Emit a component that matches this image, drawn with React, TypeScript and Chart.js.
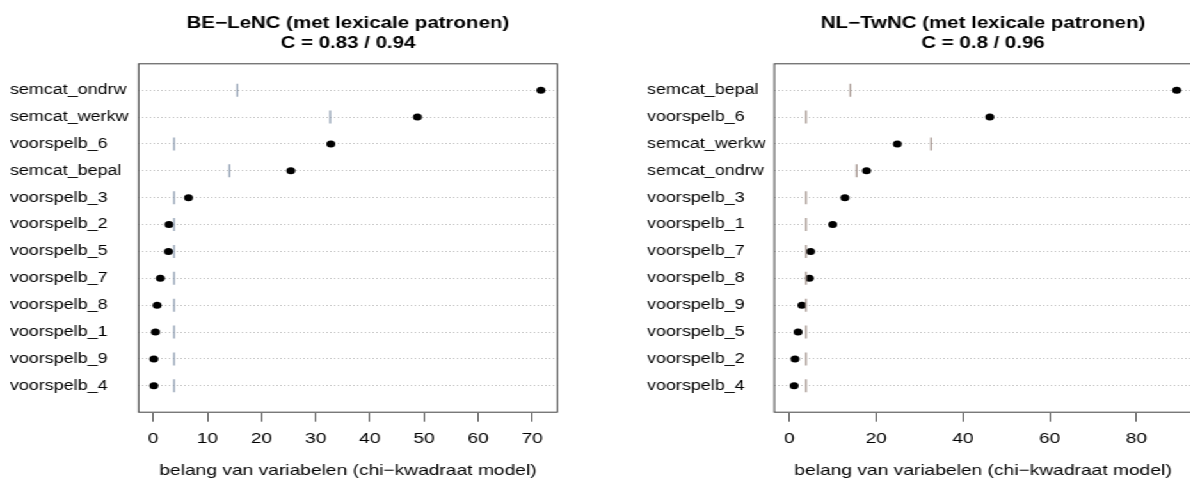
import React, { useEffect, useRef } from 'react';
import { Chart, registerables } from 'chart.js';

Chart.register(...registerables);

// ---------- data ----------
const beLabels = ['semcat_ondrw', 'semcat_werkw', 'voorspelb_6', 'semcat_bepal', 'voorspelb_3', 'voorspelb_2', 'voorspelb_5', 'voorspelb_7', 'voorspelb_8', 'voorspelb_1', 'voorspelb_9', 'voorspelb_4'];
const beChi = [71.6, 48.8, 32.8, 25.4, 6.5, 2.9, 2.8, 1.3, 0.7, 0.4, 0.1, 0.1];
const beCrit = [15.51, 32.67, 3.84, 14.07, 3.84, 3.84, 3.84, 3.84, 3.84, 3.84, 3.84, 3.84];
const beTicks = [0, 10, 20, 30, 40, 50, 60, 70];
const beTitle = ['BE\u2212LeNC (met lexicale patronen)', 'C = 0.83 / 0.94'];

const nlLabels = ['semcat_bepal', 'voorspelb_6', 'semcat_werkw', 'semcat_ondrw', 'voorspelb_3', 'voorspelb_1', 'voorspelb_7', 'voorspelb_8', 'voorspelb_9', 'voorspelb_5', 'voorspelb_2', 'voorspelb_4'];
const nlChi = [89.3, 46.2, 24.9, 17.8, 12.8, 10.0, 4.9, 4.6, 2.9, 2.0, 1.3, 1.1];
const nlCrit = [14.07, 3.84, 32.67, 15.51, 3.84, 3.84, 3.84, 3.84, 3.84, 3.84, 3.84, 3.84];
const nlTicks = [0, 20, 40, 60, 80];
const nlTitle = ['NL\u2212TwNC (met lexicale patronen)', 'C = 0.8 / 0.96'];

const xTitle = 'belang van variabelen (chi\u2212kwadraat model)';

// ---------- layout ----------
const STRETCH = 1.28;
const FONT = "'Liberation Sans', Arial, Helvetica, sans-serif";

const boxPlugin = {
  id: 'boxPlugin',
  afterDraw(chart: any) {
    const { ctx, chartArea: a } = chart;
    ctx.save();
    ctx.strokeStyle = '#404040';
    ctx.lineWidth = 1;
    ctx.strokeRect(a.left + 0.5, a.top + 0.5, a.right - a.left - 1, a.bottom - a.top - 1);
    ctx.restore();
  },
};

function makeConfig(p: {
  labels: string[]; chi: number[]; crit: number[]; ticks: number[];
  xmin: number; xmax: number; title: string[]; markerColor: string;
  padLeft: number; padRight: number; yWidth: number;
}): any {
  const markerData = p.crit.map((v, i) => ({ x: v, y: i + 1 }));
  const dotData = p.chi.map((v, i) => ({ x: v, y: i + 1 }));
  return {
    type: 'scatter',
    data: {
      datasets: [
        {
          data: markerData,
          pointStyle: 'line',
          rotation: 90,
          radius: 6.5,
          borderWidth: 1.3,
          borderColor: p.markerColor,
          backgroundColor: p.markerColor,
        },
        {
          data: dotData,
          pointStyle: 'circle',
          radius: 3.5,
          borderWidth: 0,
          backgroundColor: '#000',
          borderColor: '#000',
        },
      ],
    },
    options: {
      responsive: false,
      animation: false,
      devicePixelRatio: 1,
      layout: { padding: { left: p.padLeft, right: p.padRight, top: 0, bottom: 0 } },
      plugins: {
        legend: { display: false },
        tooltip: { enabled: false },
        title: {
          display: true,
          fullSize: false,
          text: p.title,
          color: '#000',
          font: { family: FONT, size: 16, weight: 'bold', lineHeight: 1.2 },
          padding: { top: 14.4, bottom: 10.5 },
        },
      },
      scales: {
        x: {
          type: 'linear',
          min: p.xmin,
          max: p.xmax,
          afterBuildTicks: (s: any) => { s.ticks = p.ticks.map((v) => ({ value: v })); },
          afterFit: (s: any) => { s.height = 71.3; },
          grid: { display: true, drawOnChartArea: false, drawTicks: true, tickLength: 9, color: '#505050', lineWidth: 1 },
          border: { display: false },
          ticks: { color: '#000', font: { family: FONT, size: 15 }, padding: 8.3, maxRotation: 0, autoSkip: false },
          title: { display: true, text: xTitle, color: '#000', font: { family: FONT, size: 15 }, padding: { top: 0, bottom: 4 } },
        },
        y: {
          type: 'linear',
          reverse: true,
          min: 0,
          max: 13,
          afterBuildTicks: (s: any) => { s.ticks = p.labels.map((_, i) => ({ value: i + 1 })); },
          afterFit: (s: any) => { s.width = p.yWidth; },
          grid: { display: true, drawOnChartArea: true, drawTicks: false, color: '#bdbdbd', lineWidth: 1 },
          border: { display: false, dash: [1, 2] },
          ticks: {
            color: '#000',
            font: { family: FONT, size: 14 },
            crossAlign: 'far',
            autoSkip: false,
            callback: (v: number) => p.labels[Math.round(v) - 1] ?? '',
          },
        },
      },
    },
    plugins: [boxPlugin],
  };
}

function Panel(props: { left: number; width: number; cfg: any }) {
  const ref = useRef<HTMLCanvasElement | null>(null);
  useEffect(() => {
    if (!ref.current) return;
    const chart = new Chart(ref.current, props.cfg);
    return () => chart.destroy();
  }, []);
  return (
    <canvas
      ref={ref}
      width={props.width}
      height={484}
      style={{ position: 'absolute', left: props.left, top: 0, width: props.width, height: 484 }}
    />
  );
}

export default function App() {
  const leftCfg = makeConfig({
    labels: beLabels, chi: beChi, crit: beCrit, ticks: beTicks,
    xmin: -2.83, xmax: 74.75, title: beTitle, markerColor: '#8d9cb0',
    padLeft: 7.8, padRight: 34.1, yWidth: 100,
  });
  const rightCfg = makeConfig({
    labels: nlLabels, chi: nlChi, crit: nlCrit, ticks: nlTicks,
    xmin: -3.6, xmax: 92.9, title: nlTitle, markerColor: '#a5958f',
    padLeft: 25.5, padRight: 8.5, yWidth: 99,
  });
  return (
    <div style={{ position: 'fixed', left: 0, top: 0, width: 1190, height: 484, overflow: 'hidden', background: '#fff' }}>
      <div style={{ position: 'absolute', left: 0, top: 0, width: 940, height: 484, transform: `scaleX(${STRETCH})`, transformOrigin: '0 0' }}>
        <Panel left={0} width={470} cfg={leftCfg} />
        <Panel left={480} width={460} cfg={rightCfg} />
      </div>
    </div>
  );
}
